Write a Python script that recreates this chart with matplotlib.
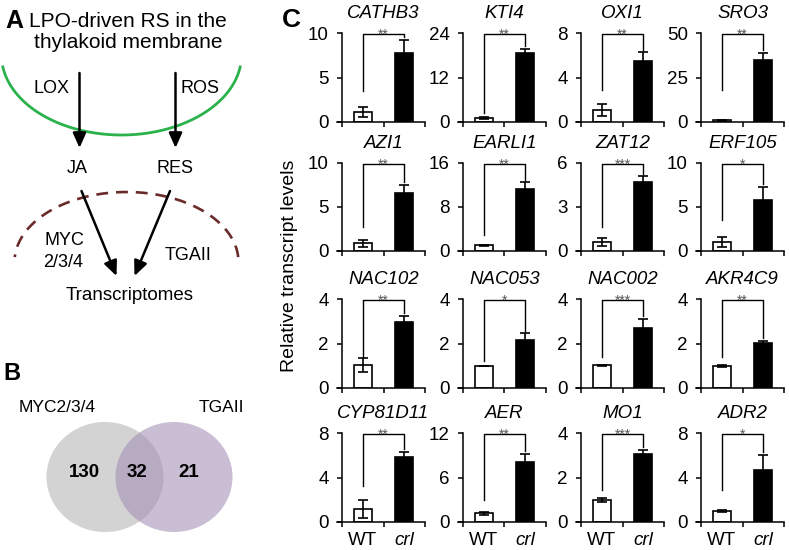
import numpy as np
import matplotlib.pyplot as plt
from matplotlib.patches import Ellipse

plt.rcParams['font.family'] = ['Liberation Sans', 'DejaVu Sans']

# panel C data (relative transcript levels, mean and error)
genes = ['CATHB3', 'KTI4', 'OXI1', 'SRO3',
         'AZI1', 'EARLI1', 'ZAT12', 'ERF105',
         'NAC102', 'NAC053', 'NAC002', 'AKR4C9',
         'CYP81D11', 'AER', 'MO1', 'ADR2']
wt_mean = [1.1, 1.0, 1.1, 1.0, 0.9, 1.0, 0.62, 1.0, 1.03, 1.0, 1.02, 1.0, 1.2, 1.15, 1.0, 1.0]
wt_err = [0.55, 0.3, 0.55, 0.2, 0.4, 0.05, 0.3, 0.55, 0.3, 0.0, 0.03, 0.04, 0.8, 0.15, 0.1, 0.1]
crl_mean = [7.8, 18.5, 5.5, 35.0, 6.6, 11.3, 4.7, 5.8, 2.95, 2.15, 2.7, 2.04, 5.85, 8.1, 3.06, 4.7]
crl_err = [1.4, 1.2, 0.75, 3.8, 0.95, 1.2, 0.4, 1.5, 0.3, 0.3, 0.4, 0.07, 0.45, 1.1, 0.18, 1.35]
y_max = [10, 24, 8, 50, 10, 16, 6, 10, 4, 4, 4, 4, 8, 12, 4, 8]
stars = ['**', '**', '**', '**', '**', '**', '***', '*',
         '**', '*', '***', '**', '**', '**', '***', '*']
bracket_from = [0.35, 0.10, 0.36, 0.36, 0.27, 0.18, 0.27, 0.35,
                0.35, 0.30, 0.35, 0.35, 0.40, 0.25, 0.36, 0.36]
groups = ['WT', 'crl']

# panel B data
venn_sets = ['MYC2/3/4', 'TGAII']
venn_counts = [130, 32, 21]

W, H = 789, 550
fig = plt.figure(figsize=(W / 100, H / 100), dpi=100)

# pixel-space overlay for panels A and B
ov = fig.add_axes([0, 0, 1, 1])
ov.set_xlim(0, W)
ov.set_ylim(H, 0)
ov.axis('off')

ov.text(14, 28, 'A', fontsize=18, fontweight='bold', ha='center', va='baseline')
ov.text(12, 380, 'B', fontsize=17, fontweight='bold', ha='center', va='baseline')
ov.text(291, 27, 'C', fontsize=19, fontweight='bold', ha='center', va='baseline')

ov.text(128, 27, 'LPO-driven RS in the', fontsize=15, ha='center', va='baseline')
ov.text(128, 47.5, 'thylakoid membrane', fontsize=15, ha='center', va='baseline')

# thylakoid membrane arc
t = np.linspace(0.15, np.pi - 0.15, 200)
ov.plot(121.5 + 120 * np.cos(t), 55 + 80 * np.sin(t), color='#2bb24c', lw=2)

# nuclear envelope (dashed)
t = np.linspace(0.07, np.pi - 0.07, 200)
ov.plot(126.5 + 112 * np.cos(t), 262 - 70 * np.sin(t), color='#6b2b2b', lw=1.9,
        linestyle=(0, (4.5, 3)))

arrow = dict(arrowstyle='-|>,head_length=0.9,head_width=0.4', lw=1.8, color='black',
             shrinkA=0, shrinkB=0, mutation_scale=10)
ov.annotate('', xy=(79.5, 148), xytext=(79.5, 73), arrowprops=arrow)
ov.annotate('', xy=(175.5, 148), xytext=(175.5, 73), arrowprops=arrow)
ov.annotate('', xy=(116.5, 276), xytext=(81.5, 191), arrowprops=arrow)
ov.annotate('', xy=(134.5, 276), xytext=(170, 191), arrowprops=arrow)

ov.text(52, 93, 'LOX', fontsize=13, ha='center', va='baseline')
ov.text(200, 93, 'ROS', fontsize=13, ha='center', va='baseline')
ov.text(77, 173, 'JA', fontsize=13, ha='center', va='baseline')
ov.text(175, 173, 'RES', fontsize=13, ha='center', va='baseline')
ov.text(64, 245, 'MYC', fontsize=13, ha='center', va='baseline')
ov.text(63, 267, '2/3/4', fontsize=13, ha='center', va='baseline')
ov.text(188, 260, 'TGAII', fontsize=13, ha='center', va='baseline')
ov.text(130, 300, 'Transcriptomes', fontsize=13.5, ha='center', va='baseline')

# Venn diagram
ov.add_patch(Ellipse((105, 477), 117, 110, facecolor='#d3d3d3', edgecolor='none'))
ov.add_patch(Ellipse((174, 477), 117, 110, facecolor='#a28fb5', alpha=0.58, edgecolor='none'))
ov.text(57.5, 412, venn_sets[0], fontsize=12.5, ha='center', va='baseline')
ov.text(221, 412, venn_sets[1], fontsize=12.5, ha='center', va='baseline')
for x, n in zip([84, 137.5, 189], venn_counts):
    ov.text(x, 477, str(n), fontsize=13.5, fontweight='bold', ha='center', va='baseline')

# panel C grid of bar charts
spine_x = [342, 463, 581, 701]
row_top = [33, 163, 299, 433]
row_bottom = [122, 251, 388, 522]
xmin, xmax = -0.12, 2.0
unit = 83 / 2.0

for i, gene in enumerate(genes):
    r, c = divmod(i, 4)
    left = spine_x[c] + xmin * unit
    width = (xmax - xmin) * unit
    ax = fig.add_axes([left / W, 1 - row_bottom[r] / H, width / W,
                       (row_bottom[r] - row_top[r]) / H])
    means = [wt_mean[i], crl_mean[i]]
    errs = [wt_err[i], crl_err[i]]
    ax.bar([0.5, 1.5], means, width=0.43, color=['white', 'black'],
           edgecolor='black', linewidth=1.2, zorder=2)
    ax.errorbar([0.5, 1.5], means, yerr=errs, fmt='none', ecolor='black',
                elinewidth=1.2, capsize=3.5, capthick=1.2, zorder=3)

    ym = y_max[i]
    ax.set_xlim(xmin, xmax)
    ax.set_ylim(0, ym)
    ax.spines['top'].set_visible(False)
    ax.spines['right'].set_visible(False)
    ax.spines['left'].set_position(('data', 0))
    for s in ['left', 'bottom']:
        ax.spines[s].set_linewidth(1.1)
    ax.set_yticks([0, ym / 2, ym])
    ax.set_yticklabels([f'{v:g}' for v in [0, ym / 2, ym]])
    ax.set_xticks([0, 1, 2])
    ax.set_xticklabels([])
    ax.tick_params(axis='both', which='major', direction='out', length=3.5, width=1.1,
                   labelsize=13.5)
    ax.tick_params(axis='y', pad=6)
    if r == 3:
        ax.set_xticks([0.5, 1.5], minor=True)
        ax.set_xticklabels(groups, minor=True, fontsize=13.5)
        ax.tick_params(axis='x', which='minor', length=0, pad=7)
        ax.get_xticklabels(minor=True)[1].set_style('italic')

    # significance bracket
    top = ym * 0.985
    right_end = crl_mean[i] + crl_err[i] + ym * 0.03
    ax.plot([0.5, 0.5, 1.5, 1.5], [ym * bracket_from[i], top, top, right_end],
            color='black', lw=1.0, clip_on=False, zorder=4)
    ax.annotate(stars[i], (1.0, top), xytext=(0, -3.4), textcoords='offset points',
                fontsize=10, color='#555555', ha='center', va='baseline',
                annotation_clip=False)

    ax.set_title(gene, fontsize=13.5, style='italic', pad=10.5,
                 x=(1 - xmin) / (xmax - xmin))

fig.text(289 / W, 1 - 266 / H, 'Relative transcript levels', fontsize=14,
         rotation=90, ha='center', va='center')

fig.savefig('out.png', dpi=100)
